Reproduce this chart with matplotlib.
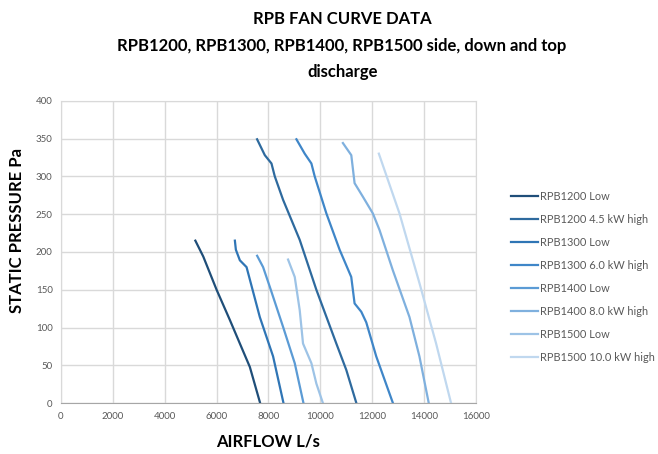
import matplotlib.pyplot as plt

# fan curves: airflow (L/s) vs static pressure (Pa)
series_names = ["RPB1200 Low", "RPB1200 4.5 kW high", "RPB1300 Low", "RPB1300 6.0 kW high",
                "RPB1400 Low", "RPB1400 8.0 kW high", "RPB1500 Low", "RPB1500 10.0 kW high"]

rpb1200_low_x = [5180, 5485, 6000, 6512, 6896, 7281, 7680]
rpb1200_low_y = [215, 194, 150, 110, 79, 48, 0]

rpb1200_high_x = [7560, 7858, 8115, 8242, 8562, 9204, 9846, 10615, 11000, 11390]
rpb1200_high_y = [349, 328, 317, 300, 269, 216, 150, 79, 44, 0]

rpb1300_low_x = [6704, 6742, 6896, 7154, 7665, 8177, 8580]
rpb1300_low_y = [215, 203, 189, 180, 114, 62, 0]

rpb1300_high_x = [9077, 9396, 9654, 9781, 10231, 10742, 11190, 11319, 11577, 11769, 12154, 12800]
rpb1300_high_y = [349, 330, 317, 300, 251, 203, 167, 132, 121, 107, 62, 0]

rpb1400_low_x = [7562, 7792, 8050, 8562, 9012, 9350]
rpb1400_low_y = [195, 180, 154, 101, 53, 0]

rpb1400_high_x = [10869, 11192, 11319, 11640, 12023, 12281, 12792, 13435, 13819, 14180]
rpb1400_high_y = [344, 328, 291, 273, 251, 229, 176, 114, 62, 0]

rpb1500_low_x = [8754, 9012, 9204, 9331, 9654, 9846, 10100]
rpb1500_low_y = [190, 167, 123, 79, 53, 26, 0]

rpb1500_high_x = [12254, 13050, 13819, 14462, 15040]
rpb1500_high_y = [330, 251, 159, 79, 0]

all_x = [rpb1200_low_x, rpb1200_high_x, rpb1300_low_x, rpb1300_high_x,
         rpb1400_low_x, rpb1400_high_x, rpb1500_low_x, rpb1500_high_x]
all_y = [rpb1200_low_y, rpb1200_high_y, rpb1300_low_y, rpb1300_high_y,
         rpb1400_low_y, rpb1400_high_y, rpb1500_low_y, rpb1500_high_y]

colors = ["#1F4E79", "#2E6A9E", "#2F75B5", "#3F86C8",
          "#5B9BD5", "#7FB0DE", "#9DC3E6", "#C0D8EF"]

plt.rcParams['font.family'] = ['Lato', 'DejaVu Sans']

fig = plt.figure(figsize=(6.58, 4.54), dpi=100)
ax = fig.add_axes([0.0927, 0.1117, 0.6307, 0.6665])

for xs, ys, name, c in zip(all_x, all_y, series_names, colors):
    ax.plot(xs, ys, color=c, linewidth=1.6, label=name)

ax.set_xlim(0, 16000)
ax.set_ylim(0, 400)
ax.set_xticks(range(0, 16001, 2000))
ax.set_yticks(range(0, 401, 50))
ax.grid(True, color="#d9d9d9", linewidth=1.0)
ax.set_axisbelow(True)
ax.tick_params(length=0, labelsize=7, colors="#595959", pad=6)
for side in ["top", "right", "left"]:
    ax.spines[side].set_color("#d9d9d9")
ax.spines["bottom"].set_color("#a6a6a6")

ax.set_xlabel("AIRFLOW L/s", fontsize=12, fontweight="bold", labelpad=9)
ax.set_ylabel("STATIC PRESSURE Pa", fontsize=12, fontweight="bold")
ax.yaxis.set_label_coords(-0.087, 0.57)

fig.text(0.52, 0.975, "RPB FAN CURVE DATA\nRPB1200, RPB1300, RPB1400, RPB1500 side, down and top\ndischarge",
         ha="center", va="top", fontsize=12, fontweight="bold", linespacing=1.8)

leg = ax.legend(loc="upper left", bbox_to_anchor=(1.06, 0.735), frameon=False,
                fontsize=7.9, handlelength=2.5, handletextpad=0.15, labelspacing=1.1)
for t in leg.get_texts():
    t.set_color("#595959")

fig.savefig("out.png", dpi=100)
